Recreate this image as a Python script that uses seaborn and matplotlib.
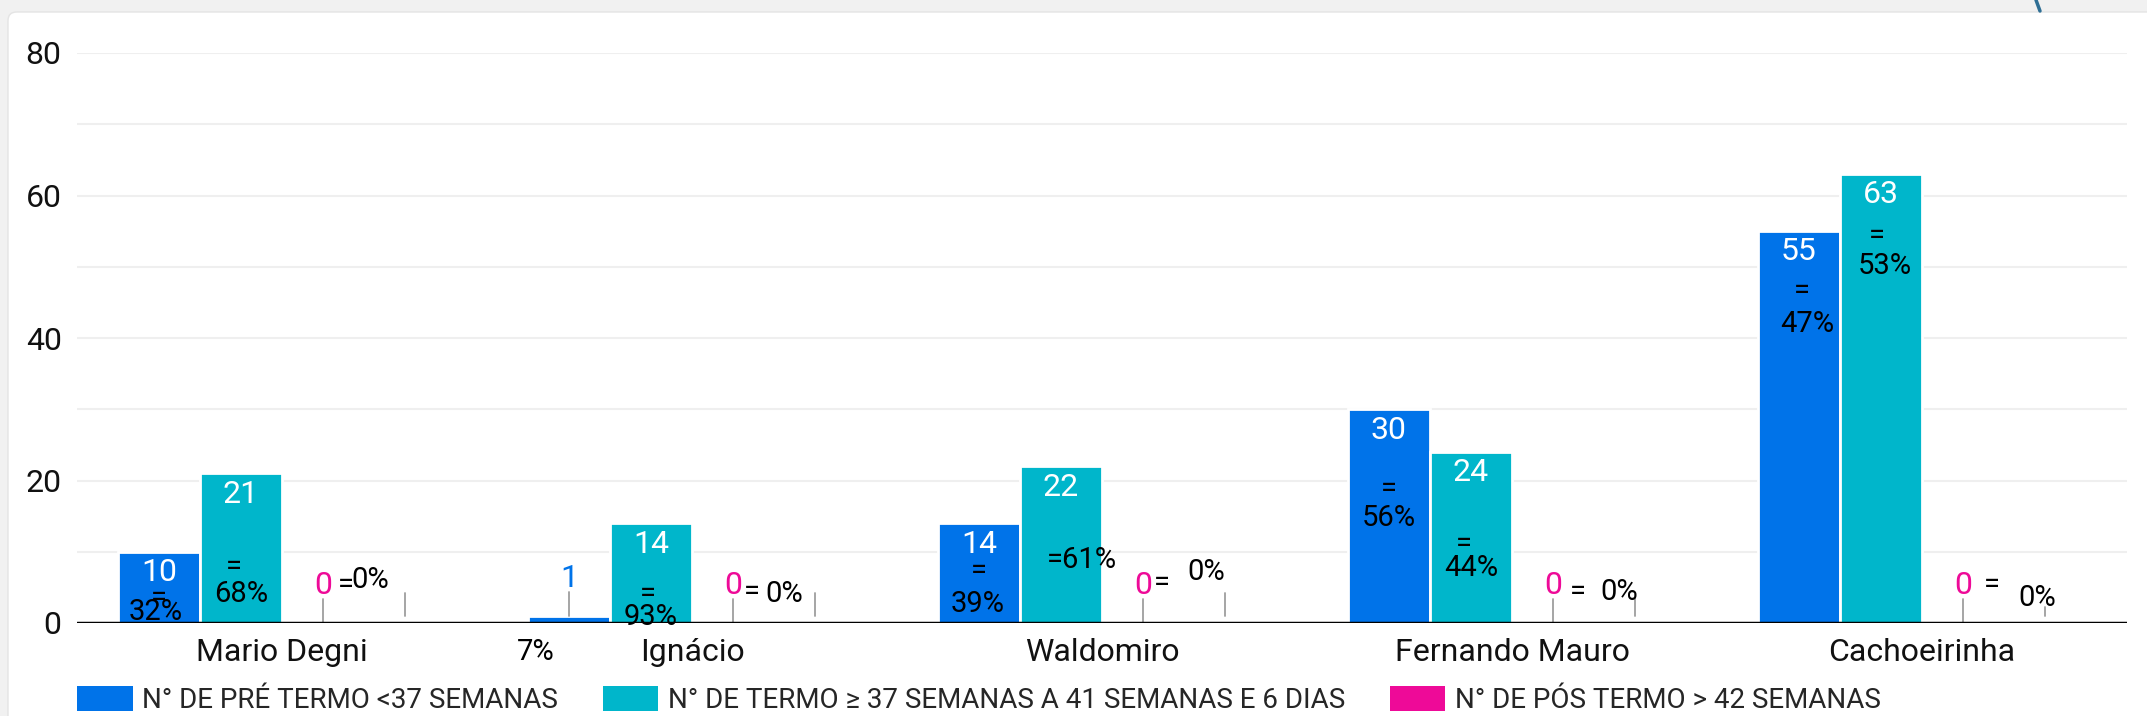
import matplotlib.pyplot as plt
import pandas as pd
import seaborn as sns
from matplotlib.lines import Line2D
from matplotlib.patches import FancyBboxPatch, Patch

# dados
locais = ["Mario Degni", "Ignácio", "Waldomiro", "Fernando Mauro", "Cachoeirinha"]
series = ["N° DE PRÉ TERMO <37 SEMANAS",
          "N° DE TERMO ≥ 37 SEMANAS A 41 SEMANAS E 6 DIAS",
          "N° DE PÓS TERMO > 42 SEMANAS"]
pre_termo = [10, 1, 14, 30, 55]
termo = [21, 14, 22, 24, 63]
pos_termo = [0, 0, 0, 0, 0]
espaco = [1, 1, 1, 1, 1]  # serie oculta (so as hastes aparecem)

pct_pre = ["32%", "7%", "39%", "56%", "47%"]
pct_termo = ["68%", "93%", "=61%", "44%", "53%"]
pct_pos = ["0%", "0%", "0%", "0%", "0%"]

cores = ["#0073E9", "#00B6CB", "#EE0A98", "#ffffff"]

# posicao dos rotulos de % (dx em px, y em unidades do eixo)
eq_pre_dx = [0, None, 0, 0, 3]
eq_pre_y = [3.5, None, 7.3, 18.8, 46.6]
pct_pre_dx = [-3, -33, -1, 0, 8]
pct_pre_y = [1.5, -4.0, 2.7, 14.8, 42.0]
eq_termo_dx = [-7, -3, None, -7, -4]
eq_termo_y = [7.9, 4.0, None, 11.1, 54.3]
pct_termo_dx = [0, 0, 21, 0, 4]
pct_termo_y = [4.0, 0.8, 8.8, 7.7, 50.1]
eq_pos_dx = [23, 19, 19, 25, 29]
eq_pos_y = [5.4, 4.4, 5.6, 4.4, 5.4]
pct_pos_dx = [47, 51, 63, 66, 74]
pct_pos_y = [6.0, 4.0, 7.1, 4.4, 3.5]
haste_oculta = [4.2, 4.2, 4.2, 4.1, 2.2]

df = pd.DataFrame({
    "local": locais * 4,
    "serie": [s for s in series + ["oculta"] for _ in locais],
    "valor": pre_termo + termo + pos_termo + espaco,
})

sns.set_theme(style="white")
plt.rcParams["font.family"] = ["Roboto", "DejaVu Sans"]

W, H = 2147, 716
fig = plt.figure(figsize=(W / 100, H / 100), dpi=100)
fig.patch.set_facecolor("#f1f1f1")
fig.add_artist(FancyBboxPatch((8 / W, -0.05), 1.1, (H - 12) / H + 0.05,
                              boxstyle="round,pad=0,rounding_size=0.004",
                              mutation_aspect=W / H, transform=fig.transFigure,
                              facecolor="white", edgecolor="#e4e4e4", lw=1, zorder=-5))
fig.add_artist(Line2D([2036 / W, 2040 / W], [1, (H - 11) / H], color="#2f6f95", lw=2.5,
                      zorder=-4))

ax = fig.add_axes([77 / W, 93 / H, 2050 / W, 570 / H])
ax.set_facecolor("none")
sns.barplot(data=df, x="local", y="valor", hue="serie", order=locais,
            hue_order=series + ["oculta"], palette=cores, width=0.8, saturation=1,
            edgecolor="white", linewidth=2, errorbar=None, legend=False, ax=ax)
for p in ax.containers[3]:
    p.set_visible(False)

ax.set_ylim(0, 80)
ax.set_yticks([0, 20, 40, 60, 80])
ax.set_yticks([10, 30, 50, 70], minor=True)
ax.grid(axis="y", which="both", color="#efefef", lw=1.5)
ax.set_axisbelow(True)
ax.axhline(0, color="black", lw=2.5, zorder=6)
sns.despine(ax=ax, left=True, bottom=True)
ax.tick_params(axis="y", which="both", length=0, labelsize=23, pad=11, labelcolor="#111111")
ax.tick_params(axis="x", length=0, labelsize=23, pad=11, labelcolor="#111111")
ax.set_xlabel("")
ax.set_ylabel("")

px = 1 / 410  # um pixel em unidades de categoria
haste = "#9e9e9e"


def rotulo_valor(bar, valor, cor):
    x = bar.get_x() + bar.get_width() / 2
    if valor >= 5:
        ax.annotate(str(valor), (x, valor), xytext=(0, -15), textcoords="offset points",
                    ha="center", va="center", color="white", fontsize=23, zorder=7)
    else:
        ax.plot([x, x], [valor, valor + 3.3], color=haste, lw=1.3, zorder=5)
        ax.text(x, valor + 4.1, str(valor), ha="center", va="baseline",
                color=cor, fontsize=23, zorder=7)


def rotulo_pct(x, dx, y, texto):
    if dx is None:
        return
    ax.text(x + dx * px, y, texto, ha="center", va="center", color="black",
            fontsize=21, zorder=7)


for i in range(len(locais)):
    b_pre = ax.containers[0][i]
    b_termo = ax.containers[1][i]
    b_pos = ax.containers[2][i]
    b_oc = ax.containers[3][i]
    rotulo_valor(b_pre, pre_termo[i], cores[0])
    rotulo_valor(b_termo, termo[i], cores[1])
    rotulo_valor(b_pos, pos_termo[i], cores[2])

    xo = b_oc.get_x() + b_oc.get_width() / 2
    ax.plot([xo, xo], [espaco[i], haste_oculta[i]], color=haste, lw=1.3, zorder=5)

    x_pre = b_pre.get_x() + b_pre.get_width() / 2
    x_termo = b_termo.get_x() + b_termo.get_width() / 2
    x_pos = b_pos.get_x() + b_pos.get_width() / 2
    rotulo_pct(x_pre, eq_pre_dx[i], eq_pre_y[i], "=")
    rotulo_pct(x_pre, pct_pre_dx[i], pct_pre_y[i], pct_pre[i])
    rotulo_pct(x_termo, eq_termo_dx[i], eq_termo_y[i], "=")
    rotulo_pct(x_termo, pct_termo_dx[i], pct_termo_y[i], pct_termo[i])
    rotulo_pct(x_pos, eq_pos_dx[i], eq_pos_y[i], "=")
    rotulo_pct(x_pos, pct_pos_dx[i], pct_pos_y[i], pct_pos[i])

for t in ax.texts:
    t.set_clip_on(False)

ax.set_xlim(-0.5, len(locais) - 0.5)
ax.set_ylim(0, 80)

handles = [Patch(facecolor=c, edgecolor="none") for c in cores[:3]]
fig.legend(handles, series, loc="center left", bbox_to_anchor=(77 / W, 16 / H),
           ncol=3, frameon=False, fontsize=20, handlelength=2.0, handleheight=1.0,
           handletextpad=0.35, columnspacing=1.6, borderpad=0, borderaxespad=0)

fig.savefig("out.png", dpi=100, facecolor=fig.get_facecolor())
